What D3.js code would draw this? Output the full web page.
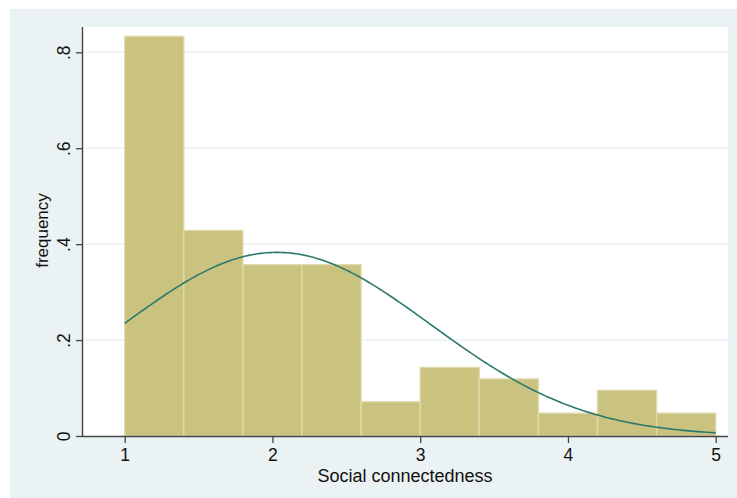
<!DOCTYPE html>
<html>
<head>
<meta charset="utf-8">
<script src="https://cdn.jsdelivr.net/npm/d3@7"></script>
<style>
  html, body { margin: 0; padding: 0; background: #ffffff; }
  svg { display: block; }
  text { font-family: "Liberation Sans", Arial, sans-serif; fill: #111; }
</style>
</head>
<body>
<svg id="chart" width="737" height="498"></svg>
<script>
// Histogram bins of social connectedness (width 0.4) and their densities
const binStarts = [1.0, 1.4, 1.8, 2.2, 2.6, 3.0, 3.4, 3.8, 4.2, 4.6];
const binWidth = 0.4;
const binDensity = [0.8333, 0.4286, 0.3571, 0.3571, 0.0714, 0.1429, 0.1190, 0.0476, 0.0952, 0.0476];

// Fitted normal density overlay
const normalMean = 2.03;
const normalSd = 1.042;

// Axis ticks
const xTicks = [1, 2, 3, 4, 5];
const yTicks = [0, 0.2, 0.4, 0.6, 0.8];
const yTickLabels = ["0", ".2", ".4", ".6", ".8"];

const xTitle = "Social connectedness";
const yTitle = "frequency";

const svg = d3.select("#chart");
const W = 737, H = 498;

// Outer graph region
svg.append("rect").attr("x", 10).attr("y", 9).attr("width", W - 10).attr("height", H - 9)
  .attr("fill", "#eaf2f3");

// Plot region
const plot = { left: 83, right: 728, top: 27, bottom: 436 };
svg.append("rect").attr("x", plot.left).attr("y", plot.top)
  .attr("width", plot.right - plot.left).attr("height", plot.bottom - plot.top)
  .attr("fill", "#ffffff");

const x = d3.scaleLinear().domain([1, 5]).range([124.7, 715.7]);
const y = d3.scaleLinear().domain([0, 0.8]).range([436, 52.3]);

// Horizontal grid lines
svg.append("g").selectAll("line").data(yTicks.filter(d => d > 0)).join("line")
  .attr("x1", plot.left).attr("x2", plot.right)
  .attr("y1", d => y(d)).attr("y2", d => y(d))
  .attr("stroke", "#eaf2f3").attr("stroke-width", 1.5);

// Bars
svg.append("g").selectAll("rect").data(binStarts).join("rect")
  .attr("x", d => x(d))
  .attr("y", (d, i) => y(binDensity[i]))
  .attr("width", d => x(d + binWidth) - x(d))
  .attr("height", (d, i) => y(0) - y(binDensity[i]))
  .attr("fill", "#cac27f")
  .attr("stroke", "#dfd9ab")
  .attr("stroke-width", 1.4);

// Normal density curve
const curvePts = d3.range(0, 201).map(i => {
  const v = 1 + 4 * i / 200;
  const z = (v - normalMean) / normalSd;
  return [v, Math.exp(-0.5 * z * z) / (normalSd * Math.sqrt(2 * Math.PI))];
});
svg.append("path").datum(curvePts)
  .attr("d", d3.line().x(d => x(d[0])).y(d => y(d[1])))
  .attr("fill", "none").attr("stroke", "#2c7a6e").attr("stroke-width", 1.6);

// X axis
const xAxis = svg.append("g").attr("transform", `translate(0,${plot.bottom})`)
  .call(d3.axisBottom(x).tickValues(xTicks).tickFormat(d3.format("d")).tickSizeInner(7).tickSizeOuter(0).tickPadding(6));
xAxis.select(".domain").attr("d", `M${plot.left},0.5H${plot.right}`).attr("stroke", "#444").attr("stroke-width", 1.4);
xAxis.selectAll(".tick line").attr("stroke", "#444").attr("stroke-width", 1.3);
xAxis.selectAll(".tick text").attr("font-size", 17.5).attr("font-family", "Liberation Sans, Arial, sans-serif").attr("fill", "#111");

// Y axis
const yAxis = svg.append("g").attr("transform", `translate(${plot.left},0)`)
  .call(d3.axisLeft(y).tickValues(yTicks).tickFormat((d, i) => yTickLabels[i]).tickSizeInner(7).tickSizeOuter(0));
yAxis.select(".domain").attr("d", `M-0.5,${plot.top}V${plot.bottom}`).attr("stroke", "#444").attr("stroke-width", 1.4);
yAxis.selectAll(".tick line").attr("stroke", "#444").attr("stroke-width", 1.3);
yAxis.selectAll(".tick text")
  .attr("x", null).attr("dy", null)
  .attr("transform", "translate(-13,0) rotate(-90)")
  .attr("text-anchor", "middle")
  .attr("font-size", 17.5).attr("font-family", "Liberation Sans, Arial, sans-serif").attr("fill", "#111");

// Axis titles
svg.append("text").attr("x", 405).attr("y", 482)
  .attr("text-anchor", "middle").attr("font-size", 18).text(xTitle);
svg.append("text").attr("transform", `translate(47.5,${(plot.top + plot.bottom) / 2 - 1}) rotate(-90)`)
  .attr("text-anchor", "middle").attr("font-size", 17).text(yTitle);
</script>
</body>
</html>
